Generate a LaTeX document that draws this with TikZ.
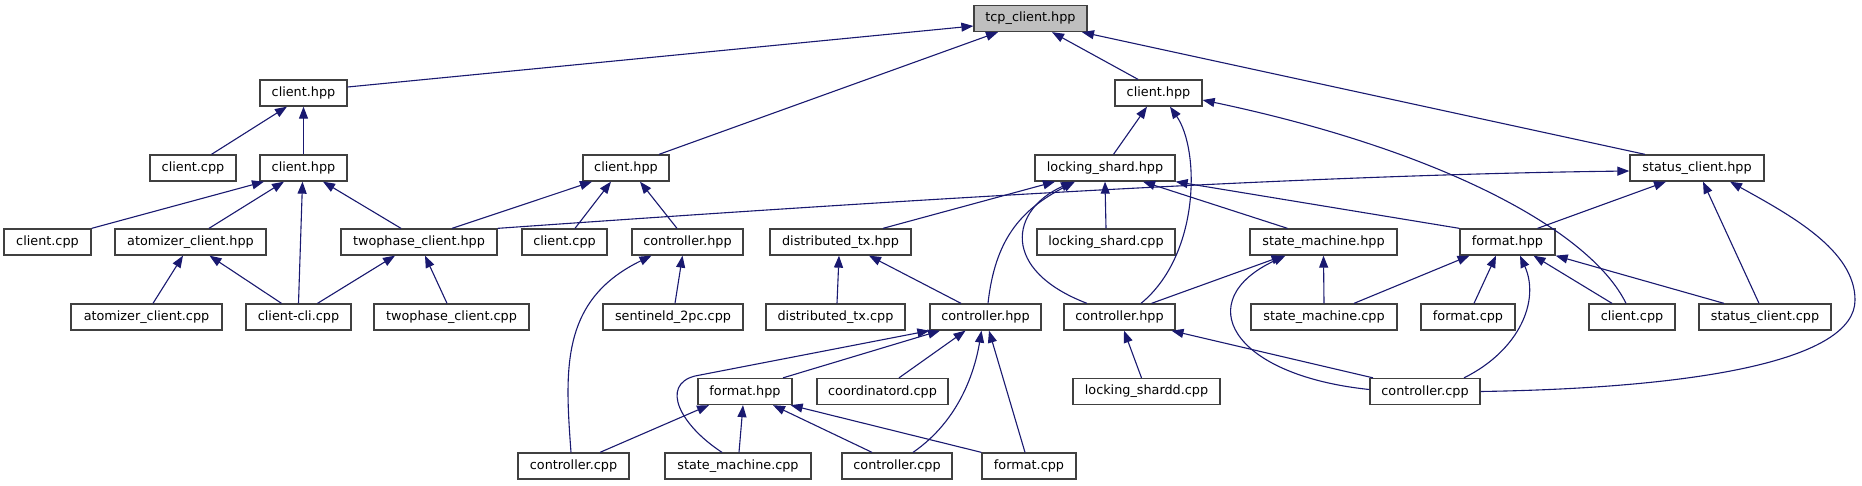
\documentclass[tikz,border=0pt]{standalone}
\usepackage{fontspec}
\setmainfont{DejaVu Sans}
\usetikzlibrary{arrows.meta}
\definecolor{edgeblue}{HTML}{191970}
\definecolor{boxline}{HTML}{404040}
\definecolor{rootfill}{HTML}{BFBFBF}
\begin{document}
\begin{tikzpicture}[x=1pt,y=-1pt,
  box/.style={draw=boxline, line width=1.3pt, fill=white, minimum height=26pt, inner sep=0pt,
    font=\fontsize{12.8pt}{15pt}\selectfont, text=black},
  rootbox/.style={box, fill=rootfill},
  edge/.style={draw=edgeblue, line width=1.1pt, -{Triangle[length=12pt,width=9pt]}}]
\fill[white] (0,0) rectangle (1862,485);
\useasboundingbox (0,0) rectangle (1862,485);
% row 0
\node[rootbox, minimum width=113pt] (tcp) at (1030.5,18.5) {tcp\_client.hpp};
% row 1
\node[box, minimum width=87pt] (cA1) at (303.5,93) {client.hpp};
\node[box, minimum width=87pt] (cC) at (1158.5,93) {client.hpp};
% row 2
\node[box, minimum width=86pt] (cpp1) at (193,168) {client.cpp};
\node[box, minimum width=87pt] (cA2) at (303.5,168) {client.hpp};
\node[box, minimum width=86pt] (cB) at (626,168) {client.hpp};
\node[box, minimum width=140pt] (lsh) at (1105,168) {locking\_shard.hpp};
\node[box, minimum width=134pt] (sch) at (1697,168) {status\_client.hpp};
% row 3
\node[box, minimum width=87pt] (cpp2) at (47.5,242) {client.cpp};
\node[box, minimum width=151pt] (ach) at (190.5,242) {atomizer\_client.hpp};
\node[box, minimum width=156pt] (tph) at (419,242) {twophase\_client.hpp};
\node[box, minimum width=85pt] (cpp3) at (564.5,242) {client.cpp};
\node[box, minimum width=111pt] (ctlh1) at (687.5,242) {controller.hpp};
\node[box, minimum width=141pt] (dth) at (840.5,242) {distributed\_tx.hpp};
\node[box, minimum width=138pt] (lsc) at (1106,242) {locking\_shard.cpp};
\node[box, minimum width=147pt] (smh) at (1323.5,242) {state\_machine.hpp};
\node[box, minimum width=95pt] (fmh) at (1507.5,242) {format.hpp};
% row 4
\node[box, minimum width=151pt] (acc) at (146.5,317) {atomizer\_client.cpp};
\node[box, minimum width=105pt] (cli) at (298.5,317) {client-cli.cpp};
\node[box, minimum width=155pt] (tpc) at (451.5,317) {twophase\_client.cpp};
\node[box, minimum width=140pt] (s2pc) at (673,317) {sentineld\_2pc.cpp};
\node[box, minimum width=139pt] (dtc) at (835.5,317) {distributed\_tx.cpp};
\node[box, minimum width=111pt] (ctlhD) at (985.5,317) {controller.hpp};
\node[box, minimum width=111pt] (ctlhE) at (1119.5,317) {controller.hpp};
\node[box, minimum width=146pt] (smc) at (1324,317) {state\_machine.cpp};
\node[box, minimum width=94pt] (fmc) at (1468,317) {format.cpp};
\node[box, minimum width=86pt] (cpp4) at (1632,317) {client.cpp};
\node[box, minimum width=132pt] (scc) at (1765,317) {status\_client.cpp};
% row 5
\node[box, minimum width=94pt] (fmhF) at (745,391.5) {format.hpp};
\node[box, minimum width=131pt] (crd) at (882.5,391.5) {coordinatord.cpp};
\node[box, minimum width=147pt] (lsd) at (1146.5,391.5) {locking\_shardd.cpp};
\node[box, minimum width=110pt] (ctlcR) at (1425,391.5) {controller.cpp};
% row 6
\node[box, minimum width=111pt] (ctlc1) at (573.5,466) {controller.cpp};
\node[box, minimum width=146pt] (smc2) at (738,466) {state\_machine.cpp};
\node[box, minimum width=110pt] (ctlc2) at (897,466) {controller.cpp};
\node[box, minimum width=94pt] (fmc2) at (1029,466) {format.cpp};

% edges (tail at includer, head at included file)
\draw[edge] ([yshift=6pt]cA1.east) -- ([yshift=-7.5pt]tcp.west);
\draw[edge] ([xshift=33pt]cB.north) -- ([xshift=-32.5pt]tcp.south);
\draw[edge] ([xshift=-20.5pt]cC.north) -- ([xshift=21.5pt]tcp.south);
\draw[edge] ([xshift=-52pt]sch.north) -- ([xshift=51.5pt]tcp.south);
\draw[edge] ([xshift=18.5pt]cpp1.north) -- ([xshift=-16.5pt]cA1.south);
\draw[edge] (cA2.north) -- (cA1.south);
\draw[edge] (cpp2.north east) -- ([xshift=-39.5pt]cA2.south);
\draw[edge] ([xshift=18.5pt]ach.north) -- ([xshift=-19.5pt]cA2.south);
\draw[edge] (cli.north) -- ([xshift=-1pt]cA2.south);
\draw[edge] ([xshift=-18pt]tph.north) -- ([xshift=19.5pt]cA2.south);
\draw[edge] ([xshift=6.5pt]acc.north) -- ([xshift=-7.5pt]ach.south);
\draw[edge] ([xshift=-17pt]cli.north) -- ([xshift=19pt]ach.south);
\draw[edge] ([xshift=19pt]cli.north) -- ([xshift=-24pt]tph.south);
\draw[edge] ([xshift=-4.5pt]tpc.north) -- ([xshift=6pt]tph.south);
\draw[edge] ([xshift=33pt]tph.north) -- ([xshift=-34pt]cB.south);
\draw[edge] ([xshift=10.5pt]cpp3.north) -- ([xshift=-15pt]cB.south);
\draw[edge] ([xshift=-10.5pt]ctlh1.north) -- ([xshift=14pt]cB.south);
\draw[edge] ([xshift=2pt]s2pc.north) -- ([xshift=-5pt]ctlh1.south);
\draw[edge] ([xshift=-2.5pt]ctlc1.north) .. controls (565,370) and (560,300) .. ([xshift=-36pt]ctlh1.south);
\draw[edge] ([xshift=8.5pt]lsh.north) -- ([xshift=-11.5pt]cC.south);
\draw[edge] ([xshift=21.5pt]ctlhE.north) .. controls (1200,255) and (1200,150) .. ([xshift=11.5pt]cC.south);
\draw[edge] ([xshift=-6pt]cpp4.north) .. controls (1590,230) and (1440,150) .. ([yshift=-7pt]cC.east);
\draw[edge] (tph.north east) .. controls (900,200) and (1300,175) .. ([yshift=-3pt]sch.west);
\draw[edge] ([xshift=30pt]fmh.north) -- ([xshift=-31pt]sch.south);
\draw[edge] ([xshift=-6pt]scc.north) -- ([xshift=6pt]sch.south);
\draw[edge] (ctlcR.east) .. controls (1700,388) and (1855,360) .. (1855,300) .. controls (1855,250) and (1790,215) .. ([xshift=33pt]sch.south);
\draw[edge] ([xshift=42.5pt]dth.north) -- ([xshift=-50pt]lsh.south);
\draw[edge] ([xshift=2.5pt]ctlhD.north) .. controls (995,240) and (1020,210) .. ([xshift=-30pt]lsh.south);
\draw[edge] ([xshift=-32.5pt]ctlhE.north) .. controls (1000,270) and (1010,210) .. ([xshift=-32pt]lsh.south);
\draw[edge] (lsc.north) -- (lsh.south);
\draw[edge] ([xshift=-36pt]smh.north) -- ([xshift=38pt]lsh.south);
\draw[edge] (fmh.north west) -- (lsh.south east);
\draw[edge] ([xshift=1.5pt]dtc.north) -- ([xshift=-1.5pt]dth.south);
\draw[edge] ([xshift=-24.5pt]ctlhD.north) -- ([xshift=28.5pt]dth.south);
\draw[edge] ([xshift=32pt]ctlhE.north) -- ([xshift=-40pt]smh.south);
\draw[edge] (smc.north) -- (smh.south);
\draw[edge] ([yshift=2pt]ctlcR.west) .. controls (1230,375) and (1190,300) .. ([xshift=-38pt]smh.south);
\draw[edge] ([xshift=30pt]smc.north) -- ([xshift=-38pt]fmh.south);
\draw[edge] ([xshift=6pt]fmc.north) -- ([xshift=-11.5pt]fmh.south);
\draw[edge] ([xshift=-20pt]cpp4.north) -- ([xshift=26pt]fmh.south);
\draw[edge] ([xshift=-41pt]scc.north) -- (fmh.south east);
\draw[edge] ([xshift=39pt]ctlcR.north) .. controls (1520,350) and (1540,300) .. ([xshift=12.5pt]fmh.south);
\draw[edge] ([xshift=-5pt]lsd.north) -- ([xshift=4.5pt]ctlhE.south);
\draw[edge] ([xshift=-52pt]ctlcR.north) -- ([xshift=52pt]ctlhE.south);
\draw[edge] ([xshift=38pt]fmhF.north) -- ([xshift=-45.5pt]ctlhD.south);
\draw[edge] ([xshift=16.5pt]crd.north) -- ([xshift=-20pt]ctlhD.south);
\draw[edge] ([xshift=-16pt]smc2.north) .. controls (680,425) and (660,385) .. (695,376) -- (ctlhD.south west);
\draw[edge] ([xshift=16pt]ctlc2.north) .. controls (960,420) and (975,370) .. ([xshift=-4pt]ctlhD.south);
\draw[edge] ([xshift=-4pt]fmc2.north) -- ([xshift=3.5pt]ctlhD.south);
\draw[edge] ([xshift=26.5pt]ctlc1.north) -- ([xshift=-36pt]fmhF.south);
\draw[edge] ([xshift=1pt]smc2.north) -- ([xshift=-2pt]fmhF.south);
\draw[edge] ([xshift=-25pt]ctlc2.north) -- ([xshift=28pt]fmhF.south);
\draw[edge] (fmc2.north west) -- ([xshift=-2pt]fmhF.south east);
\end{tikzpicture}
\end{document}
